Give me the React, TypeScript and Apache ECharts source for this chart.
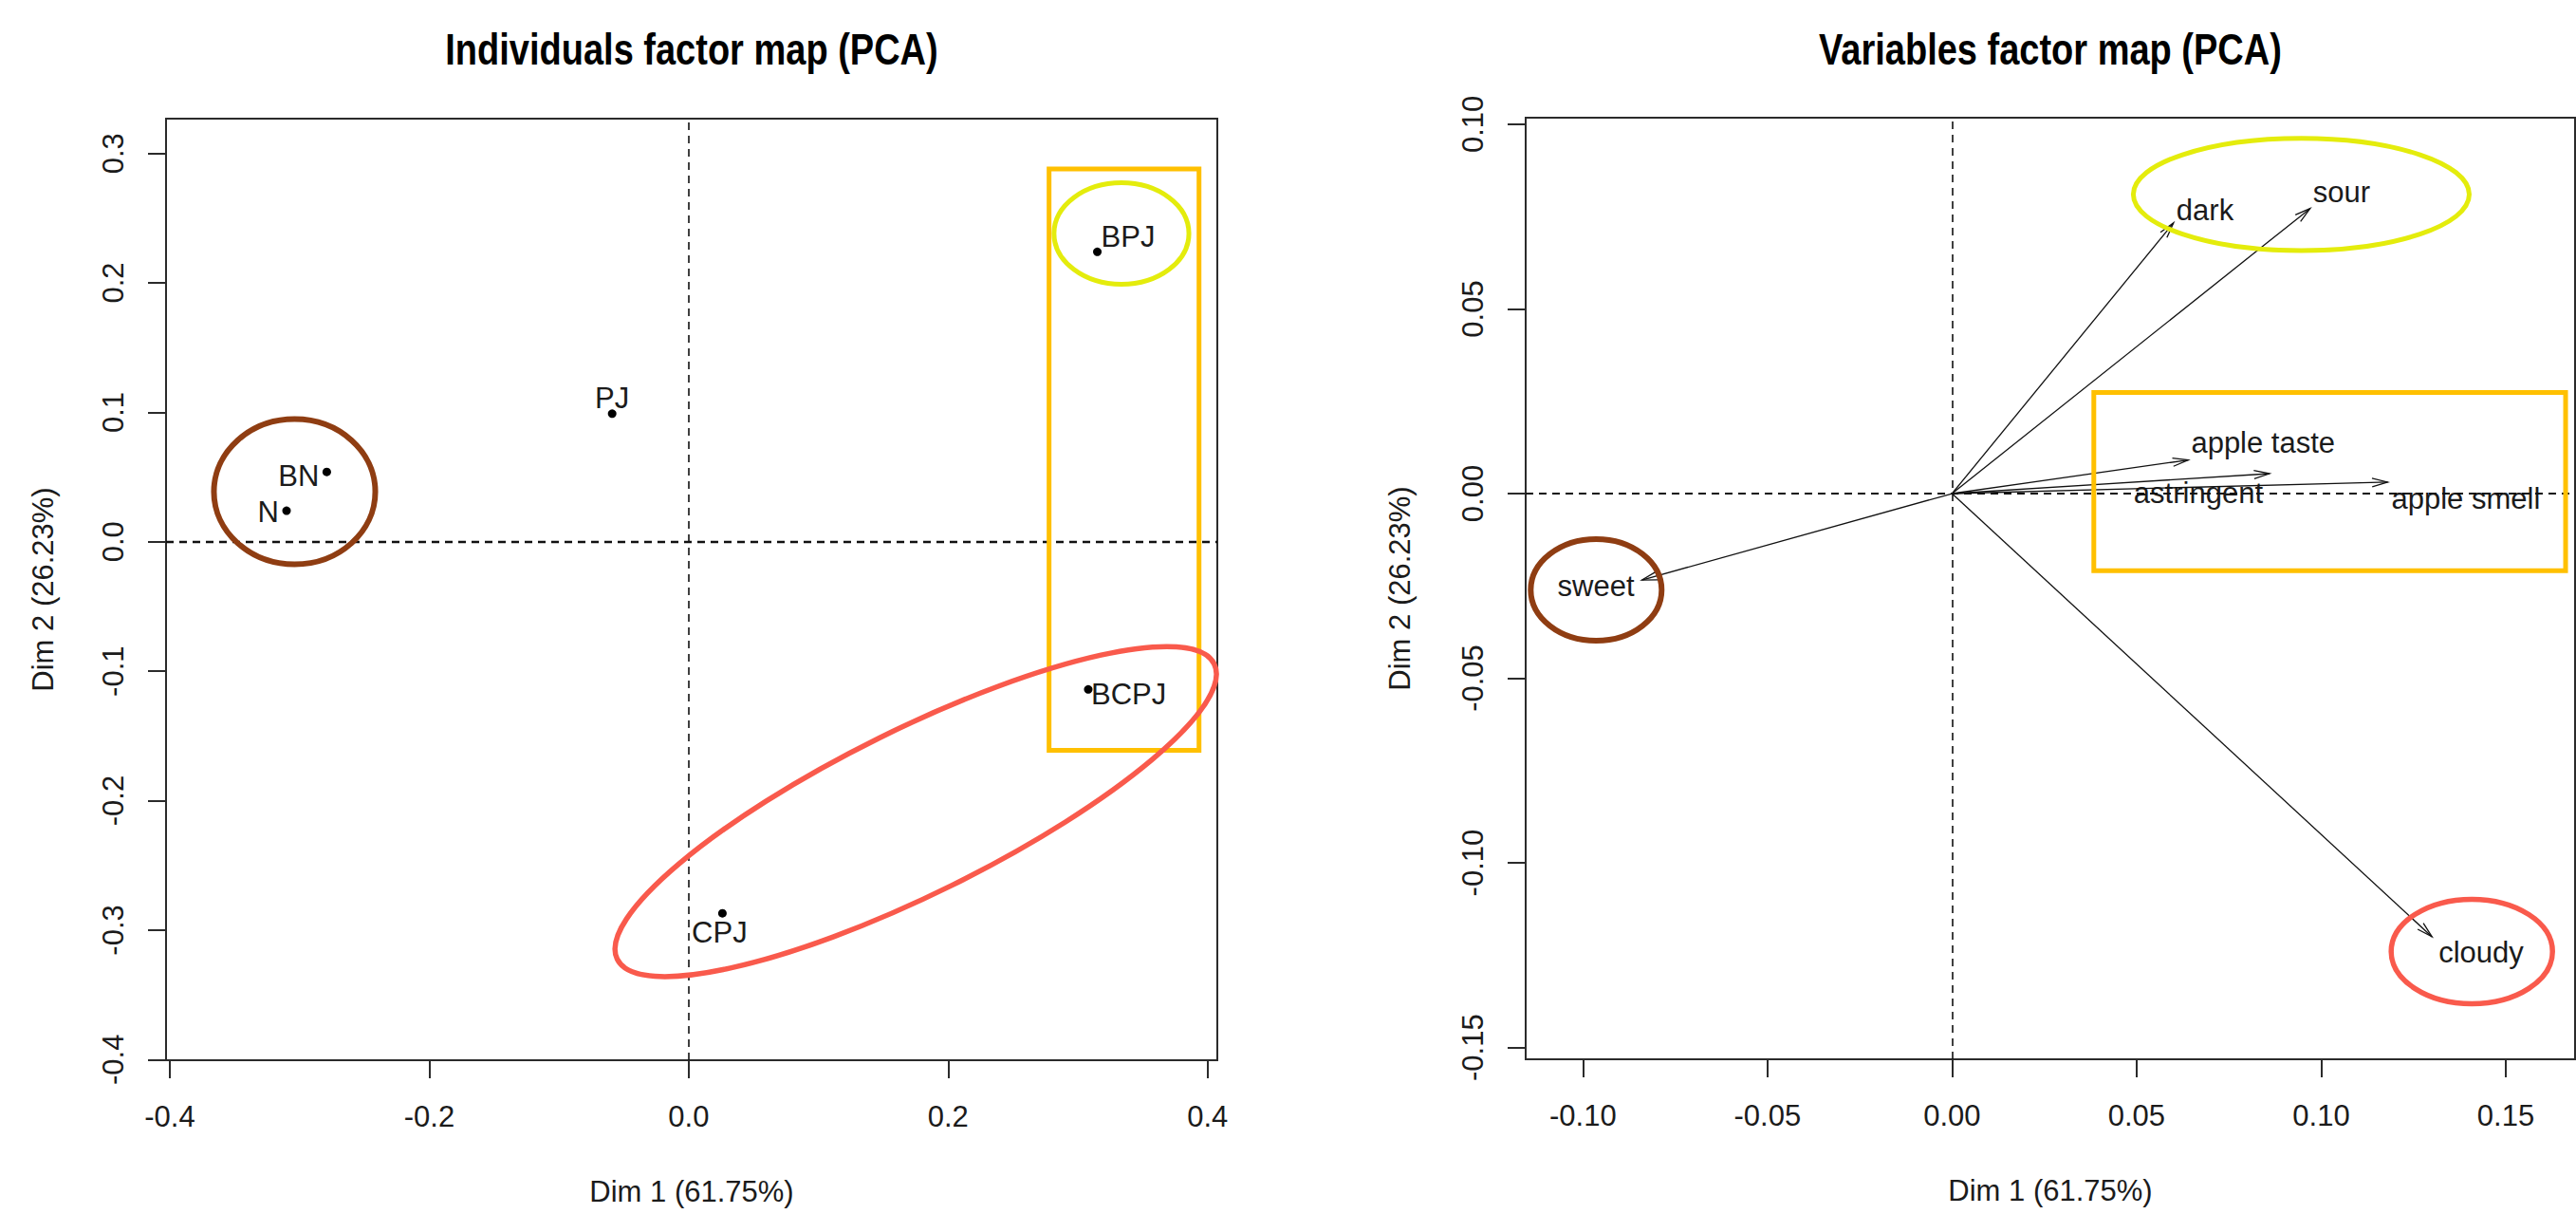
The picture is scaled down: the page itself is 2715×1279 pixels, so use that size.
import React, { useEffect, useRef } from 'react';
import * as echarts from 'echarts';

const W = 2715;
const H = 1279;
const FONT = '"Liberation Sans", Arial, Helvetica, sans-serif';
const INK = '#1b1b1b';
const BROWN = '#8f3d12';
const YELLOW = '#e4ec0c';
const ORANGE = '#ffc000';
const RED = '#f95a4c';

// ---------- Individuals factor map ----------
const indNames = ['BN', 'N', 'PJ', 'BPJ', 'BCPJ', 'CPJ'];
const indDim1 = [-0.279, -0.31, -0.059, 0.315, 0.308, 0.026];
const indDim2 = [0.054, 0.024, 0.099, 0.224, -0.114, -0.287];

// ---------- Variables factor map ----------
const varNames = ['dark', 'sour', 'apple taste', 'astringent', 'apple smell', 'sweet', 'cloudy'];
const varDim1 = [0.06, 0.097, 0.064, 0.086, 0.118, -0.084, 0.13];
const varDim2 = [0.0733, 0.0772, 0.0091, 0.0054, 0.0031, -0.0234, -0.12];

// ---------- Tick labels ----------
const indTicksX = [-0.4, -0.2, 0.0, 0.2, 0.4];
const indTicksY = [-0.4, -0.3, -0.2, -0.1, 0.0, 0.1, 0.2, 0.3];
const varTicksX = [-0.1, -0.05, 0.0, 0.05, 0.1, 0.15];
const varTicksY = [-0.15, -0.1, -0.05, 0.0, 0.05, 0.1];

const xTitle = 'Dim 1 (61.75%)';
const yTitle = 'Dim 2 (26.23%)';

// label placement (style, not data)
const indLabelAlign = ['right', 'right', 'center', 'left', 'left', 'center'];
const indLabelOffset = [[-8, 4], [-8, 1], [0, -16], [4, -16], [3, 5], [-3, 20]];
const varLabelAlign = ['left', 'left', 'left', 'right', 'left', 'right', 'left'];
const varLabelOffset = [[3, -13], [3, -17], [3, -18], [-7, 21], [4, 18], [-8, 6], [7, 17]];

// highlight annotations, in data units of each map
const indAnnotations = [
  { kind: 'ellipse', color: BROWN, w: 6, cx: -0.3038, cy: 0.0387, rx: 0.0622, ry: 0.0561, rot: 0 },
  { kind: 'ellipse', color: YELLOW, w: 5, cx: 0.3336, cy: 0.2382, rx: 0.052, ry: 0.0392, rot: 0 },
  { kind: 'rect', color: ORANGE, w: 5, x0: 0.2778, x1: 0.3934, y0: -0.161, y1: 0.288 },
  { kind: 'ellipse', color: RED, w: 5.5, cx: 0.175, cy: -0.2084, rx: 0.2568, ry: 0.0635, rot: 26.3 },
];
const varAnnotations = [
  { kind: 'ellipse', color: YELLOW, w: 5, cx: 0.0946, cy: 0.081, rx: 0.0455, ry: 0.0152, rot: 0 },
  { kind: 'rect', color: ORANGE, w: 5, x0: 0.0384, x1: 0.1662, y0: -0.0209, y1: 0.0274 },
  { kind: 'ellipse', color: BROWN, w: 6, cx: -0.0964, cy: -0.0261, rx: 0.01773, ry: 0.01375, rot: 0 },
  { kind: 'ellipse', color: RED, w: 5.5, cx: 0.1408, cy: -0.124, rx: 0.02185, ry: 0.01414, rot: 0 },
];

function mkAxis(gridIndex: number, min: number, max: number, ticks: number[], digits: number, dir: 'x' | 'y', name: string, nameGap: number) {
  return {
    type: 'value',
    gridIndex,
    min,
    max,
    name,
    nameLocation: 'middle',
    nameGap,
    nameMoveOverlap: false,
    nameTextStyle: { fontFamily: FONT, fontSize: 31, color: INK, lineHeight: 32 },
    axisLine: { show: false, onZero: false },
    axisTick: { show: true, inside: false, length: 19, customValues: ticks, lineStyle: { color: '#2b2b2b', width: 2 } },
    axisLabel: {
      show: true,
      customValues: ticks,
      formatter: (v: number) => v.toFixed(digits),
      fontFamily: FONT,
      fontSize: 31,
      lineHeight: 32,
      color: INK,
      margin: dir === 'x' ? 43 : 40,
      rotate: dir === 'y' ? 90 : 0,
    },
    splitLine: { show: false },
  };
}

function dashLines(w1: number, w2: number) {
  return {
    silent: true,
    symbol: ['none', 'none'],
    label: { show: false },
    data: [
      { xAxis: 0, lineStyle: { type: [8, 6], color: '#111', width: w1, opacity: 1 } },
      { yAxis: 0, lineStyle: { type: [8, 6], color: '#111', width: w2, opacity: 1 } },
    ],
  };
}

function buildOption() {
  return {
    animation: false,
    backgroundColor: '#ffffff',
    textStyle: { fontFamily: FONT },
    grid: [
      { left: 175, top: 125, width: 1108, height: 992, show: true, borderColor: '#2b2b2b', borderWidth: 2, backgroundColor: 'transparent', containLabel: false, outerBoundsMode: 'none' },
      { left: 1608, top: 124, width: 1106, height: 992, show: true, borderColor: '#2b2b2b', borderWidth: 2, backgroundColor: 'transparent', containLabel: false, outerBoundsMode: 'none' },
    ],
    xAxis: [
      mkAxis(0, -0.4029, 0.4075, indTicksX, 1, 'x', xTitle, 122),
      mkAxis(1, -0.1155, 0.16876, varTicksX, 2, 'x', xTitle, 122),
    ],
    yAxis: [
      mkAxis(0, -0.4005, 0.3269, indTicksY, 1, 'y', yTitle, 114),
      mkAxis(1, -0.15318, 0.10178, varTicksY, 2, 'y', yTitle, 117),
    ],
    series: [
      {
        type: 'scatter',
        xAxisIndex: 0,
        yAxisIndex: 0,
        symbol: 'circle',
        symbolSize: 9,
        itemStyle: { color: '#000', opacity: 1 },
        emphasis: { disabled: true },
        data: indNames.map((n, i) => ({
          name: n,
          value: [indDim1[i], indDim2[i]],
          label: {
            show: true,
            position: 'inside',
            formatter: '{b}',
            align: indLabelAlign[i],
            verticalAlign: 'middle',
            offset: indLabelOffset[i],
            fontFamily: FONT,
            fontSize: 31,
            color: INK,
            opacity: 1,
          },
        })),
        markLine: dashLines(1.6, 2.4),
      },
      {
        type: 'line',
        xAxisIndex: 1,
        yAxisIndex: 1,
        data: [],
        markLine: dashLines(1.6, 2),
      },
      {
        type: 'custom',
        xAxisIndex: 1,
        yAxisIndex: 1,
        clip: false,
        data: varNames.map((n, i) => ({ name: n, value: [varDim1[i], varDim2[i]] })),
        renderItem: (params: any, api: any) => {
          const i = params.dataIndex;
          const o = api.coord([0, 0]);
          const t = api.coord([api.value(0), api.value(1)]);
          const ang = Math.atan2(t[1] - o[1], t[0] - o[0]);
          const L = 17;
          const a = (15 * Math.PI) / 180;
          const h1 = [t[0] - L * Math.cos(ang - a), t[1] - L * Math.sin(ang - a)];
          const h2 = [t[0] - L * Math.cos(ang + a), t[1] - L * Math.sin(ang + a)];
          const off = varLabelOffset[i];
          return {
            type: 'group',
            children: [
              { type: 'line', shape: { x1: o[0], y1: o[1], x2: t[0], y2: t[1] }, style: { stroke: '#111', lineWidth: 1.3 } },
              { type: 'polyline', shape: { points: [h1, t, h2] }, style: { stroke: '#111', lineWidth: 1.3, fill: 'none' } },
              {
                type: 'text',
                x: t[0] + off[0],
                y: t[1] + off[1],
                style: {
                  text: varNames[i],
                  fontFamily: FONT,
                  fontSize: 31,
                  fill: INK,
                  align: varLabelAlign[i],
                  verticalAlign: 'middle',
                },
              },
            ],
          };
        },
      },
    ],
  };
}

function buildGraphics(chart: any) {
  const els: any[] = [
    {
      type: 'text',
      id: 't1',
      x: 729,
      y: 52,
      scaleY: 1.2,
      style: { text: 'Individuals factor map (PCA)', font: 'bold 38px "Liberation Sans", Arial, sans-serif', fill: '#000', align: 'center', verticalAlign: 'middle' },
    },
    {
      type: 'text',
      id: 't2',
      x: 2161,
      y: 52,
      scaleY: 1.2,
      style: { text: 'Variables factor map (PCA)', font: 'bold 38px "Liberation Sans", Arial, sans-serif', fill: '#000', align: 'center', verticalAlign: 'middle' },
    },
  ];
  const add = (gridIndex: number, list: any[]) => {
    const toPx = (x: number, y: number) => chart.convertToPixel({ gridIndex }, [x, y]);
    const o = toPx(0, 0);
    const ux = toPx(1, 0)[0] - o[0];
    const uy = o[1] - toPx(0, 1)[1];
    list.forEach((a, k) => {
      if (a.kind === 'rect') {
        const p0 = toPx(a.x0, a.y1);
        const p1 = toPx(a.x1, a.y0);
        els.push({
          type: 'rect',
          id: `a${gridIndex}_${k}`,
          silent: true,
          z: 10,
          shape: { x: p0[0], y: p0[1], width: p1[0] - p0[0], height: p1[1] - p0[1] },
          style: { fill: 'none', stroke: a.color, lineWidth: a.w },
        });
      } else {
        const c = toPx(a.cx, a.cy);
        els.push({
          type: 'ellipse',
          id: `a${gridIndex}_${k}`,
          silent: true,
          z: 10,
          x: c[0],
          y: c[1],
          rotation: (a.rot * Math.PI) / 180,
          shape: { cx: 0, cy: 0, rx: a.rx * ux, ry: a.ry * uy },
          style: { fill: 'none', stroke: a.color, lineWidth: a.w },
        });
      }
    });
  };
  add(0, indAnnotations);
  add(1, varAnnotations);
  return els;
}

export default function App() {
  const ref = useRef<HTMLDivElement>(null);
  useEffect(() => {
    if (!ref.current) return;
    const chart = echarts.init(ref.current, null, { renderer: 'svg', width: W, height: H });
    chart.setOption(buildOption() as any);
    chart.setOption({ graphic: buildGraphics(chart) } as any);
    return () => chart.dispose();
  }, []);
  return <div ref={ref} style={{ position: 'fixed', left: 0, top: 0, width: W, height: H, background: '#fff' }} />;
}
